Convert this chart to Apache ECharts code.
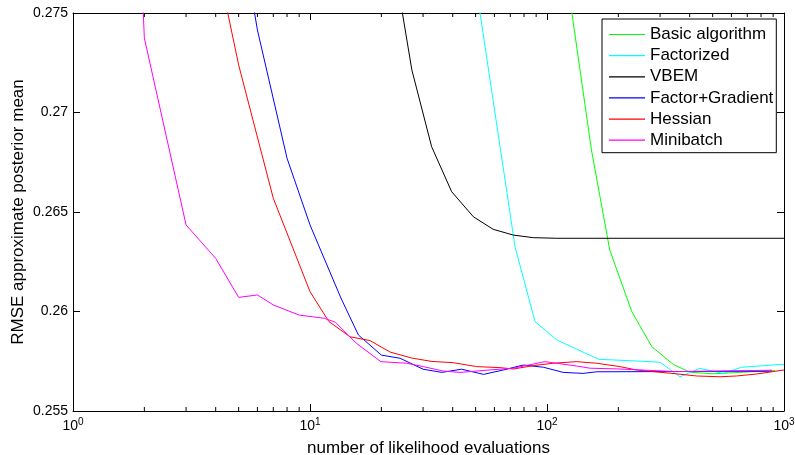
<!DOCTYPE html>
<html><head><meta charset="utf-8">
<script src="https://cdn.jsdelivr.net/npm/echarts@6/dist/echarts.min.js"></script>
<style>html,body{margin:0;padding:0;background:#fff}#c{width:795px;height:455px}</style>
</head><body><div id="c"></div>
<script>
// ---- data ----
const seriesNames = ['Basic algorithm', 'Factorized', 'VBEM', 'Factor+Gradient', 'Hessian', 'Minibatch'];
const seriesColors = ['#00ff00', '#00ffff', '#000000', '#0000ff', '#ff0000', '#ff00ff'];

const basicX = [105, 127, 154, 184, 228, 277, 341, 401, 503, 673, 916];
const basicY = [0.2820, 0.2751, 0.26812, 0.26309, 0.25999, 0.25823, 0.25734, 0.25695, 0.25687, 0.25695, 0.25703];

const factorizedX = [45, 73.3, 89, 110, 165, 272, 300, 364, 442, 554, 663, 1000];
const factorizedY = [0.2801, 0.26326, 0.25949, 0.25857, 0.25760, 0.25748, 0.25745, 0.25672, 0.25714, 0.25689, 0.25720, 0.25735];

const vbemX = [22.2, 26.9, 32.6, 39.6, 48.9, 59.3, 72.1, 87.5, 110, 1000];
const vbemY = [0.27811, 0.27214, 0.26828, 0.26602, 0.26476, 0.26413, 0.26384, 0.26371, 0.26368, 0.26368];

const gradX = [5, 6, 8, 10, 13.5, 16, 20, 24, 30, 36, 43.6, 54, 65.4, 79.4, 96.5, 117, 142, 162, 890];
const gradY = [0.2797, 0.27415, 0.2677, 0.26435, 0.26068, 0.25882, 0.25781, 0.25765, 0.25710, 0.25694, 0.25710, 0.25684, 0.25706, 0.25731, 0.25720, 0.25694, 0.25689, 0.25697, 0.25700];

const hessianX = [4, 5, 7, 10, 12, 14.75, 17.9, 21.8, 26.9, 32.7, 40.2, 50.5, 63.3, 72.1, 87.5, 106, 133.5, 162, 203, 239, 336, 428, 537, 631, 767, 1000];
const hessianY = [0.2779, 0.27239, 0.26569, 0.2610, 0.2595, 0.25873, 0.25854, 0.25796, 0.25766, 0.25749, 0.25743, 0.25723, 0.25718, 0.25711, 0.25728, 0.25740, 0.25748, 0.25740, 0.25723, 0.25706, 0.25689, 0.25676, 0.25672, 0.25676, 0.25686, 0.25706];

const miniX = [1.9, 2, 3, 4, 5, 6, 7, 9, 11.5, 12.8, 15.7, 19.9, 25.6, 30.1, 36.4, 42.9, 47.3, 57, 72.1, 98, 133.5, 152, 203, 352, 890];
const miniY = [0.280, 0.27374, 0.26435, 0.26267, 0.26071, 0.26083, 0.26033, 0.25982, 0.25966, 0.25946, 0.25840, 0.25748, 0.25740, 0.25723, 0.25701, 0.25694, 0.25698, 0.25706, 0.25715, 0.25748, 0.25726, 0.25715, 0.25711, 0.25698, 0.25705];

const xMin = 1, xMax = 1000;
const yMin = 0.255, yMax = 0.275, yStep = 0.005;
const minorTickValues = [2,3,4,5,6,7,8,9,20,30,40,50,60,70,80,90,200,300,400,500,600,700,800,900];

// ---- chart ----
const FONT = '"Liberation Sans", Arial, Helvetica, sans-serif';
function pairs(xs, ys) { return xs.map((x, i) => [x, ys[i]]); }
const allX = [basicX, factorizedX, vbemX, gradX, hessianX, miniX];
const allY = [basicY, factorizedY, vbemY, gradY, hessianY, miniY];

const lineSeries = seriesNames.map((n, i) => ({
  name: n, type: 'line', data: pairs(allX[i], allY[i]),
  xAxisIndex: 0, yAxisIndex: 0,
  symbol: 'none', showSymbol: false, clip: true, smooth: false,
  color: seriesColors[i],
  lineStyle: { color: seriesColors[i], width: 1 },
  emphasis: { disabled: true }, z: 2 + i
}));

const minorSeries = {
  type: 'custom', silent: true, xAxisIndex: 0, yAxisIndex: 0, clip: false, z: 20,
  data: minorTickValues.map(v => [v, yMin]),
  renderItem: (params, api) => {
    const v = api.value(0);
    const b = api.coord([v, yMin]);
    const t = api.coord([v, yMax]);
    const st = { stroke: '#000', lineWidth: 1 };
    return { type: 'group', children: [
      { type: 'line', shape: { x1: b[0], y1: b[1], x2: b[0], y2: b[1] - 4 }, style: st },
      { type: 'line', shape: { x1: t[0], y1: t[1], x2: t[0], y2: t[1] + 4 }, style: st }
    ]};
  }
};

const axisLine = { show: true, onZero: false, lineStyle: { color: '#000', width: 1 } };
const option = {
  animation: false,
  backgroundColor: '#fff',
  grid: { left: 73, right: 11, top: 13, bottom: 44, containLabel: false, outerBoundsMode: 'none' },
  xAxis: [
    { type: 'log', logBase: 10, min: xMin, max: xMax, position: 'bottom', splitNumber: 3,
      name: 'number of likelihood evaluations', nameLocation: 'middle', nameGap: 29,
      nameTextStyle: { fontFamily: FONT, fontSize: 17, color: '#000' },
      axisLine: axisLine,
      axisTick: { show: true, inside: true, length: 7, lineStyle: { color: '#000' } },
      axisLabel: { margin: 6, color: '#000', hideOverlap: false, showMinLabel: true, showMaxLabel: true,
        formatter: v => '{b|10}{s|' + Math.round(Math.log10(v)) + '}',
        rich: { b: { fontSize: 14, fontFamily: FONT, color: '#000' },
                s: { fontSize: 10, fontFamily: FONT, color: '#000', padding: [0, 0, 9, 0] } } },
      splitLine: { show: false }, minorTick: { show: false } },
    { type: 'log', logBase: 10, min: xMin, max: xMax, position: 'top', splitNumber: 3,
      axisLine: axisLine,
      axisTick: { show: true, inside: true, length: 7, lineStyle: { color: '#000' } },
      axisLabel: { show: false }, splitLine: { show: false } }
  ],
  yAxis: [
    { type: 'value', min: yMin, max: yMax, interval: yStep, position: 'left',
      name: 'RMSE approximate posterior mean', nameLocation: 'middle', nameGap: 46,
      nameMoveOverlap: false,
      nameTextStyle: { fontFamily: FONT, fontSize: 17, color: '#000' },
      axisLine: axisLine,
      axisTick: { show: true, inside: true, length: 7, lineStyle: { color: '#000' } },
      axisLabel: { margin: 5, fontFamily: FONT, fontSize: 14, color: '#000' },
      splitLine: { show: false } },
    { type: 'value', min: yMin, max: yMax, interval: yStep, position: 'right',
      axisLine: axisLine,
      axisTick: { show: true, inside: true, length: 7, lineStyle: { color: '#000' } },
      axisLabel: { show: false }, splitLine: { show: false } }
  ],
  legend: {
    show: true, orient: 'vertical', left: 602, top: 19, padding: [7, 3, 4, 7],
    itemGap: 4.14, itemWidth: 36, itemHeight: 1.2, icon: 'rect',
    backgroundColor: '#fff', borderColor: '#000', borderWidth: 1, borderRadius: 0,
    textStyle: { fontFamily: FONT, fontSize: 17, color: '#000' },
    data: seriesNames, selectedMode: false
  },
  series: lineSeries.concat([minorSeries])
};
const chart = echarts.init(document.getElementById('c'), null, { renderer: 'canvas' });
chart.setOption(option);
</script></body></html>
